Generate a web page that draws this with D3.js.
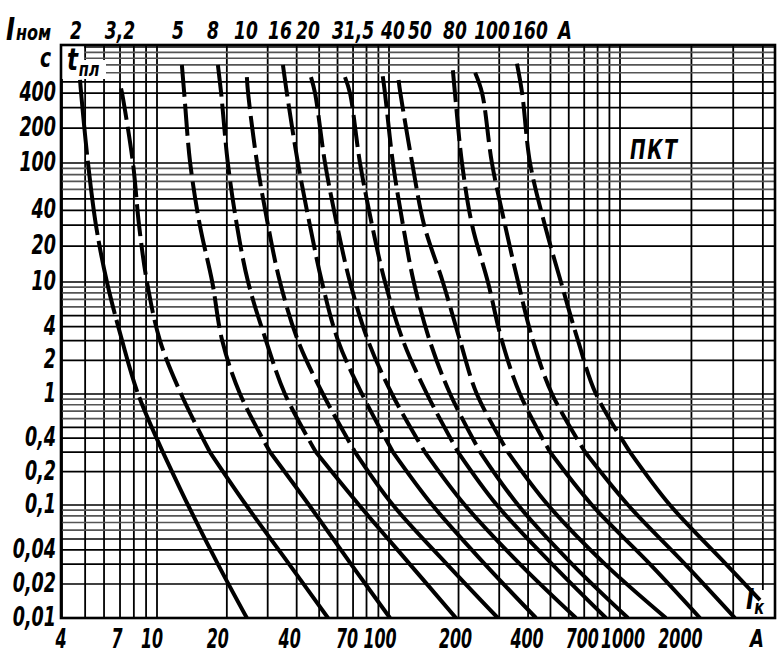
<!DOCTYPE html>
<html>
<head>
<meta charset="utf-8">
<script src="https://cdn.jsdelivr.net/npm/d3@7"></script>
<style>
  body { margin: 0; background: #fff; }
  text {
    font-family: "DejaVu Sans Condensed", "DejaVu Sans", sans-serif;
    font-style: italic;
    font-weight: bold;
    fill: #000;
  }
</style>
</head>
<body>
<div id="chart"></div>
<script>
var svgWidth = 778;
var svgHeight = 653;

// plot frame
var plotLeft = 61, plotRight = 775, plotTop = 45, plotBottom = 618;

// rated currents of the fuses, top labels
var ratedLabels = ["2", "3,2", "5", "8", "10", "16", "20", "31,5", "40", "50", "80", "100", "160"];

// melting time at the start and the end of every curve, s
var topTimes = [520, 440, 700, 700, 550, 700, 550, 550, 560, 520, 630, 600, 720];
var endTimes = [0.01, 0.01, 0.01, 0.01, 0.01, 0.01, 0.01, 0.01, 0.01, 0.01, 0.01, 0.01, 0.0144];

// common time points between start and end, s
var times = [400, 100, 30, 10, 3, 1, 0.3, 0.1, 0.03];

// current, A : [start, 400, 100, 30, 10, 3, 1, 0.3, 0.1, 0.03, end]
var fuse2    = [4.76, 4.81, 5.14, 5.55, 6.17, 7.14, 8.33, 10.6, 13.6, 18.3, 24.4];
var fuse3_2  = [7.07, 7.14, 7.93, 8.41, 9.08, 10.3, 12.7, 16.9, 24.2, 37.1, 54.6];
var fuse5    = [12.8, 13.1, 13.9, 15.3, 17.3, 19.1, 22.8, 30.7, 45.2, 68.6, 101];
var fuse8    = [18.3, 18.9, 20.2, 22.1, 24.7, 29.5, 35.6, 48.4, 74.3, 123, 195];
var fuse10   = [24.4, 24.7, 27.0, 30.1, 33.9, 40.5, 51.9, 71.4, 104, 178, 296];
var fuse16   = [34.9, 36.3, 40.5, 45.6, 51.4, 60.3, 76.5, 104, 154, 260, 433];
var fuse20   = [46.1, 48.0, 53.0, 59.7, 67.9, 81.2, 103, 143, 213, 369, 645];
var fuse31_5 = [64.6, 67.9, 75.0, 84.5, 96.1, 115, 146, 199, 293, 508, 870];
var fuse40   = [94.0, 96.1, 104, 115, 128, 150, 184, 248, 362, 620, 1081];
var fuse50   = [110, 112, 126, 142, 171, 203, 240, 327, 488, 861, 1563];
var fuse80   = [189, 193, 207, 229, 268, 308, 369, 498, 756, 1338, 2174];
var fuse100  = [236, 253, 279, 318, 362, 420, 508, 706, 1081, 1879, 3052];
var fuse160  = [358, 377, 408, 473, 555, 658, 787, 1102, 1624, 2797, 3890];

var curves = [fuse2, fuse3_2, fuse5, fuse8, fuse10, fuse16, fuse20, fuse31_5,
  fuse40, fuse50, fuse80, fuse100, fuse160];

// axis tick labels
var xTicks = [4, 7, 10, 20, 40, 70, 100, 200, 400, 700, 1000, 2000];
var yTicks = [0.01, 0.02, 0.04, 0.1, 0.2, 0.4, 1, 2, 4, 10, 20, 40, 100, 200, 400];

// label placement (the printed labels are set by hand, not on the lines)
var topLabelX = [76, 120, 178, 213, 246, 280, 308, 353, 393, 420, 455, 492, 530];
var xLabelShift = [-1, -3, -5, -9, -7, -6, -9, -3, -1, -2, 3, -11];

var svg = d3.select("#chart")
  .append("svg")
  .attr("width", svgWidth)
  .attr("height", svgHeight);

// log scales (the printed grid is slightly uneven, so decades are pinned)
var xScale = d3.scaleLog()
  .domain([4, 10, 100, 1000, 4500])
  .range([62, 157, 389, 620, plotRight]);

var yScale = d3.scaleLog()
  .domain([0.01, 0.1, 1, 10, 100, 1000])
  .range([plotBottom, 505, 394, 282, 163, 47]);

function comma(v) {
  return String(v).replace(".", ",");
}

// narrow lettering like the drawing: squeeze the glyphs horizontally
function squeeze(x, y, k) {
  return "translate(" + x + "," + y + ") scale(" + k + ",1)";
}

// grid values: 1..9 in every decade
var xGrid = [], yGrid = [];
[1, 10, 100, 1000].forEach(function(d) {
  for (var k = 1; k < 10; k++) {
    if (d * k >= 4 && d * k <= 4000) xGrid.push(d * k);
  }
});
[0.01, 0.1, 1, 10, 100].forEach(function(d) {
  for (var k = 1; k < 10; k++) yGrid.push(+(d * k).toPrecision(3));
});
yGrid.push(1000);

var gridGroup = svg.append("g");

gridGroup.selectAll(".vgrid")
  .data(xGrid)
  .enter()
  .append("line")
  .attr("x1", d => xScale(d))
  .attr("x2", d => xScale(d))
  .attr("y1", plotTop)
  .attr("y2", plotBottom)
  .attr("stroke", "#000")
  .attr("stroke-width", 1.8);

gridGroup.selectAll(".hgrid")
  .data(yGrid)
  .enter()
  .append("line")
  .attr("x1", plotLeft)
  .attr("x2", plotRight)
  .attr("y1", d => yScale(d))
  .attr("y2", d => yScale(d))
  .attr("stroke", function(d) {
    var m = Math.round(d / Math.pow(10, Math.floor(Math.log10(d) + 1e-9)));
    return m >= 6 ? "#555" : "#000";
  })
  .attr("stroke-width", 1.7);

// white patches under the inner labels
svg.append("path")
  .attr("d", "M62,46H84V60H106V79H62Z")
  .attr("fill", "#fff");
svg.append("rect")
  .attr("x", 741).attr("y", 590)
  .attr("width", 33).attr("height", 27)
  .attr("fill", "#fff");

// curves
svg.append("clipPath")
  .attr("id", "plotClip")
  .append("rect")
  .attr("x", plotLeft).attr("y", plotTop)
  .attr("width", plotRight - plotLeft).attr("height", plotBottom - plotTop);

var line = d3.line()
  .x(d => xScale(d[0]))
  .y(d => yScale(d[1]))
  .curve(d3.curveCatmullRom.alpha(0.5));

var curveGroup = svg.append("g").attr("clip-path", "url(#plotClip)");

curves.forEach(function(currents, i) {
  var pts = currents.map(function(I, j) {
    var t;
    if (j === 0) t = topTimes[i];
    else if (j === currents.length - 1) t = endTimes[i];
    else t = times[j - 1];
    return [I, t];
  });

  // upper part dashed (long dashes on the first curve)
  curveGroup.append("path")
    .datum(pts.slice(0, 8))
    .attr("d", line)
    .attr("fill", "none")
    .attr("stroke", "#000")
    .attr("stroke-width", 4)
    .attr("stroke-dasharray", i === 0 ? "75,6" : "32,7");

  // lower part solid
  curveGroup.append("path")
    .datum(pts.slice(7))
    .attr("d", line)
    .attr("fill", "none")
    .attr("stroke", "#000")
    .attr("stroke-width", 4);
});

// frame
svg.append("rect")
  .attr("x", plotLeft).attr("y", plotTop)
  .attr("width", plotRight - plotLeft).attr("height", plotBottom - plotTop)
  .attr("fill", "none")
  .attr("stroke", "#000")
  .attr("stroke-width", 2.6);

// y tick labels
svg.append("g").selectAll("text")
  .data(yTicks)
  .enter()
  .append("text")
  .attr("transform", d => squeeze(56, yScale(d) + 8, 0.75))
  .attr("text-anchor", "end")
  .style("font-size", "26px")
  .text(d => comma(d));

svg.append("text")
  .attr("transform", squeeze(51, 67, 0.8))
  .attr("text-anchor", "end")
  .style("font-size", "26px")
  .text("c");

// x tick labels
svg.append("g").selectAll("text")
  .data(xTicks)
  .enter()
  .append("text")
  .attr("transform", (d, i) => squeeze(xScale(d) + xLabelShift[i], 648, 0.68))
  .attr("text-anchor", "middle")
  .style("font-size", "26px")
  .text(d => comma(d));

svg.append("text")
  .attr("transform", squeeze(757, 647, 0.8))
  .attr("text-anchor", "middle")
  .style("font-size", "25px")
  .text("A");

// rated-current labels
svg.append("g").selectAll("text")
  .data(ratedLabels)
  .enter()
  .append("text")
  .attr("transform", (d, i) => squeeze(topLabelX[i], 39, 0.76))
  .attr("text-anchor", "middle")
  .style("font-size", "25px")
  .text(d => d);

svg.append("text")
  .attr("transform", squeeze(565, 39, 0.8))
  .attr("text-anchor", "middle")
  .style("font-size", "25px")
  .text("A");

var iNom = svg.append("text").attr("transform", squeeze(6, 40, 0.85));
iNom.append("tspan").style("font-size", "32px").text("I");
iNom.append("tspan").style("font-size", "21px").attr("dx", 1).text("ном");

// t_пл inside the frame
var tLabel = svg.append("text").attr("transform", squeeze(67, 70, 0.85));
tLabel.append("tspan").style("font-size", "30px").text("t");
tLabel.append("tspan").style("font-size", "19px").attr("dy", 6).attr("dx", 1).text("пл");

// fuse type
svg.append("text")
  .attr("transform", squeeze(630, 159, 0.8))
  .style("font-size", "26px")
  .style("letter-spacing", "2px")
  .text("ПКТ");

// I_к inside the frame
var iK = svg.append("text").attr("transform", squeeze(746, 609, 0.85));
iK.append("tspan").style("font-size", "29px").text("I");
iK.append("tspan").style("font-size", "19px").attr("dy", 5).text("к");
</script>
</body>
</html>
